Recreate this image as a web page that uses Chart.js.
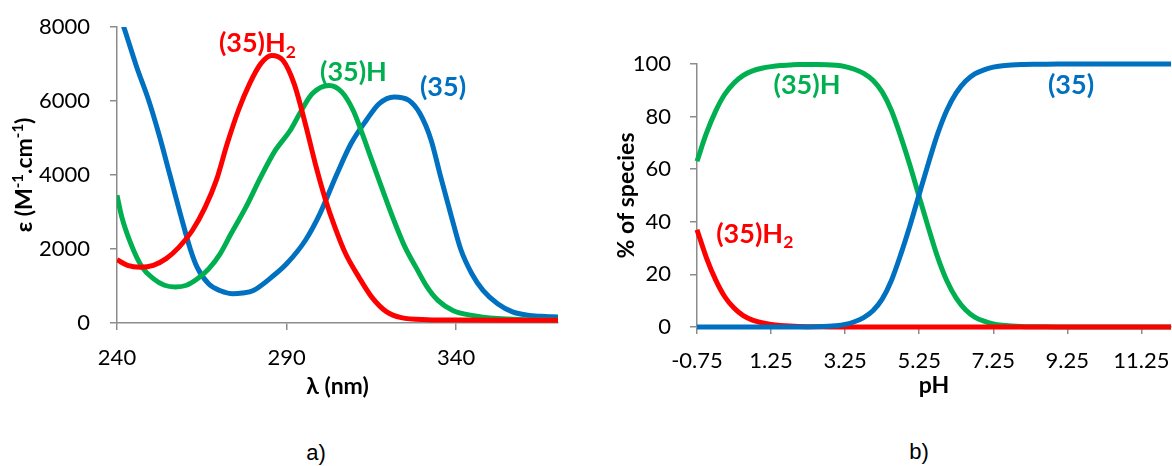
<!DOCTYPE html>
<html>
<head>
<meta charset="utf-8">
<script src="https://cdn.jsdelivr.net/npm/chart.js@4.4.1/dist/chart.umd.min.js"></script>
<style>
  body { margin:0; background:#fff; width:1172px; height:466px; position:relative; overflow:hidden; }
  #spectra { position:absolute; left:0; top:0; }
  #species { position:absolute; left:580px; top:0; }
  .cap { position:absolute; font-family:"Liberation Sans", Arial, sans-serif; font-size:22px; color:#000; transform:translate(-50%,-50%); }
</style>
</head>
<body>
<canvas id="spectra" width="580" height="400"></canvas>
<canvas id="species" width="592" height="400"></canvas>
<div class="cap" style="left:316px;top:453px">a)</div>
<div class="cap" style="left:919px;top:452px">b)</div>
<script>
// ---- a) absorption spectra ----
const lambda_35 = [240, 242, 245.8, 249.4, 252.3, 255.6, 258.9, 261.6, 263.6, 267, 270.5, 274.2, 277, 280.2, 285.6, 290, 295.5, 299.8, 304.7, 309, 313.5, 317.3, 321.7, 326, 329.3, 332.6, 335.3, 338.6, 341.3, 344.6, 347.9, 352.2, 356.6, 361, 365, 370];
const eps_35 = [8540, 8000, 6920, 6000, 5120, 4000, 2870, 2000, 1510, 1060, 870, 790, 810, 880, 1240, 1600, 2230, 2950, 4000, 4850, 5480, 5930, 6110, 6020, 5660, 4940, 3990, 2870, 2000, 1330, 880, 520, 300, 210, 180, 160];

const lambda_35H = [240, 241.4, 244.1, 247.4, 250.7, 254, 257.2, 260.5, 263.8, 267.1, 270.4, 273.6, 278, 282.4, 286.7, 291.1, 294.4, 297.6, 302.5, 306.3, 309.6, 312.3, 315.1, 318.3, 321.6, 324.9, 328.1, 331.4, 334.6, 339, 344.6, 352.2, 360, 370];
const eps_35H = [3450, 2870, 2140, 1510, 1200, 1020, 975, 1020, 1200, 1470, 1870, 2410, 3130, 3950, 4670, 5210, 5750, 6200, 6420, 6240, 5750, 5120, 4400, 3590, 2780, 2050, 1510, 975, 610, 340, 205, 120, 90, 75];

const lambda_35H2 = [240, 243.1, 246.9, 250.7, 254.5, 258.3, 262.2, 266, 269.3, 272.5, 275.8, 279.1, 282.4, 285.6, 288.9, 292.2, 295.5, 298.7, 301.5, 304.2, 307.4, 311.3, 315.1, 319.5, 323.8, 331.5, 340, 355, 370];
const eps_35H2 = [1710, 1560, 1510, 1560, 1740, 2050, 2500, 3130, 3860, 4850, 5750, 6470, 7010, 7230, 7100, 6470, 5390, 4220, 3320, 2600, 1870, 1240, 700, 300, 145, 90, 80, 75, 72];

const lambdaTicks = [240, 290, 340];

// ---- b) species distribution ----
const pH = [-0.75, -0.5, -0.25, 0, 0.25, 0.5, 0.75, 1, 1.25, 1.5, 1.75, 2, 2.5, 3, 3.25, 3.5, 3.75, 4, 4.25, 4.5, 4.75, 5, 5.25, 5.5, 5.75, 6, 6.25, 6.5, 6.75, 7, 7.25, 7.5, 8, 8.5, 9, 10, 11, 12.05];
const pct_35H2 = [37, 26.5, 18, 11.5, 7.2, 4.3, 2.6, 1.6, 1.0, 0.6, 0.35, 0.2, 0.07, 0.02, 0, 0, 0, 0, 0, 0, 0, 0, 0, 0, 0, 0, 0, 0, 0, 0, 0, 0, 0, 0, 0, 0, 0, 0];
const pct_35H = [63, 73.5, 82, 88.5, 92.8, 95.7, 97.4, 98.4, 99, 99.4, 99.6, 99.8, 99.8, 99.5, 99, 98, 96.4, 93.8, 89.4, 82.3, 72.5, 61.5, 49.5, 37.7, 26.5, 17.5, 11, 6.6, 3.8, 2.2, 1.2, 0.7, 0.2, 0.1, 0, 0, 0, 0];
const pct_35 = [0, 0, 0, 0, 0, 0, 0, 0, 0, 0, 0, 0, 0.1, 0.5, 1.0, 2.0, 3.6, 6.2, 10.6, 17.7, 27.5, 38.5, 50.5, 62.3, 73.5, 82.5, 89, 93.4, 96.2, 97.8, 98.8, 99.3, 99.8, 99.9, 100, 100, 100, 100];
const pHTicks = [-0.75, 1.25, 3.25, 5.25, 7.25, 9.25, 11.25];

const RED = '#ff0000', GREEN = '#00b050', BLUE = '#0070c0', AXIS = '#8c8c8c';
const FONT = 'Lato, "Open Sans", sans-serif';

const spectraLabels = [
  { parts: [['(35)H', 0], ['2', 1]], x: 281.4, y: 7570, color: RED },
  { parts: [['(35)H', 0]], x: 309.7, y: 6784, color: GREEN },
  { parts: [['(35)', 0]], x: 336.1, y: 6378, color: BLUE }
];
const speciesLabels = [
  { parts: [['(35)H', 0], ['2', 1]], x: 0.81, y: 35.7, color: RED },
  { parts: [['(35)H', 0]], x: 2.22, y: 92, color: GREEN },
  { parts: [['(35)', 0]], x: 9.35, y: 92, color: BLUE }
];

// text with sub (1) / superscript (2) pieces, centred on cx,cy
function drawRich(ctx, parts, cx, cy, size, color) {
  ctx.save();
  ctx.fillStyle = color;
  ctx.textBaseline = 'alphabetic';
  ctx.textAlign = 'left';
  let total = 0;
  parts.forEach(([t, k]) => {
    ctx.font = 'bold ' + (k ? size * 0.65 : size) + 'px ' + FONT;
    total += ctx.measureText(t).width;
  });
  let x = cx - total / 2;
  const base = cy + size * 0.35;
  parts.forEach(([t, k]) => {
    ctx.font = 'bold ' + (k ? size * 0.65 : size) + 'px ' + FONT;
    let y = base;
    if (k === 1) y += size * 0.22;
    if (k === 2) y -= size * 0.38;
    ctx.fillText(t, x, y);
    x += ctx.measureText(t).width;
  });
  ctx.restore();
}

function labelPlugin(labels, size) {
  return {
    id: 'seriesLabels',
    afterDatasetsDraw(chart) {
      const {ctx, scales} = chart;
      labels.forEach(l => {
        drawRich(ctx, l.parts, scales.x.getPixelForValue(l.x), scales.y.getPixelForValue(l.y), size, l.color);
      });
    }
  };
}

const epsTitle = {
  id: 'epsTitle',
  afterDraw(chart) {
    const ctx = chart.ctx;
    ctx.save();
    ctx.translate(24, (chart.chartArea.top + chart.chartArea.bottom) / 2);
    ctx.rotate(-Math.PI / 2);
    drawRich(ctx, [['ε (M', 0], ['-1', 2], ['.cm', 0], ['-1', 2], [')', 0]], 0, 0, 23, '#000');
    ctx.restore();
  }
};

function line(xs, ys, color) {
  return {
    data: xs.map((x, i) => ({x: x, y: ys[i]})),
    showLine: true,
    borderColor: color,
    borderWidth: 5,
    pointRadius: 0,
    cubicInterpolationMode: 'monotone',
    fill: false
  };
}

function axisGrid() {
  return { drawOnChartArea: false, drawTicks: true, tickLength: 7, color: AXIS, tickColor: AXIS, lineWidth: 1.5 };
}

// fixed axis boxes, no extra room for overhanging labels
function fixBox(size) {
  return s => {
    if (s.isHorizontal()) s.height = size; else s.width = size;
    s.paddingLeft = s.paddingRight = s.paddingTop = s.paddingBottom = 0;
  };
}

new Chart(document.getElementById('spectra'), {
  type: 'scatter',
  data: {
    datasets: [
      line(lambda_35H2, eps_35H2, RED),
      line(lambda_35H, eps_35H, GREEN),
      line(lambda_35, eps_35, BLUE)
    ]
  },
  options: {
    responsive: false,
    animation: false,
    layout: { padding: { left: 0, right: 22, top: 27, bottom: 0 } },
    plugins: { legend: { display: false }, tooltip: { enabled: false } },
    scales: {
      x: {
        type: 'linear', min: 240, max: 370,
        afterBuildTicks: s => { s.ticks = lambdaTicks.map(v => ({value: v})); },
        afterFit: fixBox(77),
        grid: axisGrid(),
        border: { color: AXIS, width: 1.5 },
        ticks: { color: '#000', font: { family: FONT, size: 22 }, padding: 15, maxRotation: 0, callback: v => String(v) },
        title: { display: true, text: 'λ (nm)', color: '#000', font: { family: FONT, size: 23, weight: 'bold' }, padding: { top: 0, bottom: 0 } }
      },
      y: {
        type: 'linear', min: 0, max: 8000,
        afterFit: fixBox(117),
        grid: axisGrid(),
        border: { color: AXIS, width: 1.5 },
        ticks: { stepSize: 2000, color: '#000', font: { family: FONT, size: 22 }, padding: 20, callback: v => String(v) }
      }
    }
  },
  plugins: [labelPlugin(spectraLabels, 27), epsTitle]
});

new Chart(document.getElementById('species'), {
  type: 'scatter',
  data: {
    datasets: [
      line(pH, pct_35, BLUE),
      line(pH, pct_35H2, RED),
      line(pH, pct_35H, GREEN)
    ].map(d => Object.assign(d, { clip: 4 }))
  },
  options: {
    responsive: false,
    animation: false,
    layout: { padding: { left: 0, right: 1, top: 64, bottom: 0 } },
    plugins: { legend: { display: false }, tooltip: { enabled: false } },
    scales: {
      x: {
        type: 'linear', min: -0.75, max: 12.05,
        afterBuildTicks: s => { s.ticks = pHTicks.map(v => ({value: v})); },
        afterFit: fixBox(73),
        grid: axisGrid(),
        border: { color: AXIS, width: 1.5 },
        ticks: { color: '#000', font: { family: FONT, size: 22 }, padding: 14, maxRotation: 0, callback: v => v.toFixed(2) },
        title: { display: true, text: 'pH', color: '#000', font: { family: FONT, size: 23, weight: 'bold' }, padding: { top: 0, bottom: 1 } }
      },
      y: {
        type: 'linear', min: 0, max: 100,
        afterFit: fixBox(117),
        grid: axisGrid(),
        border: { color: AXIS, width: 1.5 },
        ticks: { stepSize: 20, color: '#000', font: { family: FONT, size: 22 }, padding: 19 },
        title: { display: true, text: '% of species', color: '#000', font: { family: FONT, size: 23, weight: 'bold' }, padding: { top: 33, bottom: 0 } }
      }
    }
  },
  plugins: [labelPlugin(speciesLabels, 27)]
});
</script>
</body>
</html>
